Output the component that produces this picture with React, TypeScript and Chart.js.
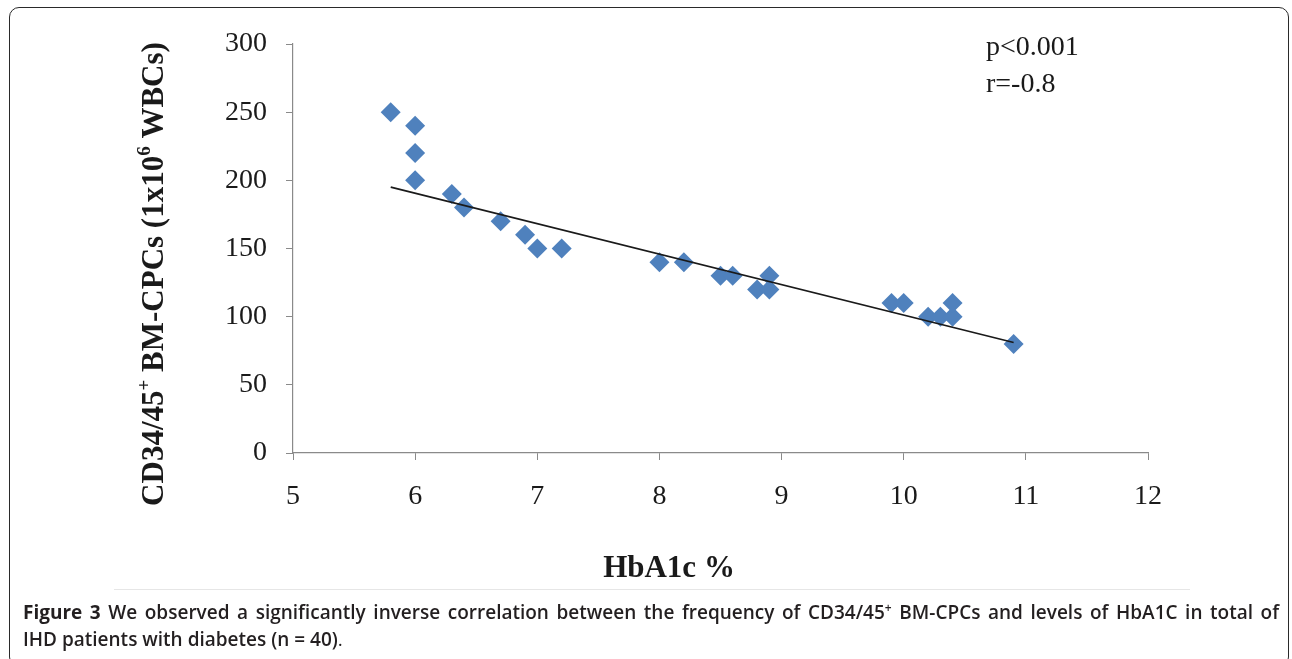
import React, { useEffect, useRef } from "react";
import { Chart, registerables } from "chart.js";
Chart.register(...registerables);

// HbA1c % (x) and CD34/45+ BM-CPCs per 1x10^6 WBCs (y)
const hba1c = [5.8, 6.0, 6.0, 6.0, 6.3, 6.4, 6.7, 6.9, 7.0, 7.2, 8.0, 8.2, 8.5, 8.6, 8.8, 8.9, 8.9, 9.9, 10.0, 10.2, 10.3, 10.4, 10.4, 10.9];
const cpcs = [250, 240, 220, 200, 190, 180, 170, 160, 150, 150, 140, 140, 130, 130, 120, 120, 130, 110, 110, 100, 100, 100, 110, 80];
// linear trend line end points
const trendX = [5.8, 10.9];
const trendY = [195, 81];
const xMin = 5;
const xMax = 12;
const yMin = 0;
const yMax = 300;
const xStep = 1;
const yStep = 50;
const annotationLines = ["p<0.001", "r=-0.8"];
const xTitle = "HbA1c %";
const yTitleParts: { t: string; sup: boolean }[] = [
  { t: "CD34/45", sup: false },
  { t: "+", sup: true },
  { t: " BM-CPCs (1x10", sup: false },
  { t: "6", sup: true },
  { t: " WBCs)", sup: false },
];

const SERIF = "'Liberation Serif', 'Times New Roman', serif";

const textPlugin = {
  id: "textPlugin",
  afterDraw(chart: any) {
    const ctx = chart.ctx as CanvasRenderingContext2D;
    ctx.save();
    ctx.fillStyle = "#1a1a1a";
    // annotation
    ctx.font = `28px ${SERIF}`;
    ctx.textAlign = "left";
    ctx.textBaseline = "middle";
    annotationLines.forEach((l, i) => ctx.fillText(l, 986, 48 + i * 37));
    // x title
    ctx.font = `bold 31px ${SERIF}`;
    ctx.textAlign = "center";
    ctx.fillText(xTitle, 669, 569);
    // y title (rotated, with superscripts)
    const fs = 31;
    const supFs = 19;
    let total = 0;
    const widths = yTitleParts.map((p) => {
      ctx.font = `bold ${p.sup ? supFs : fs}px ${SERIF}`;
      const w = ctx.measureText(p.t).width;
      total += w;
      return w;
    });
    ctx.translate(153, 274);
    ctx.rotate(-Math.PI / 2);
    ctx.textAlign = "left";
    ctx.textBaseline = "alphabetic";
    let x = -total / 2;
    const base = fs * 0.33;
    yTitleParts.forEach((p, i) => {
      ctx.font = `bold ${p.sup ? supFs : fs}px ${SERIF}`;
      ctx.fillText(p.t, x, p.sup ? base - fs * 0.42 : base);
      x += widths[i];
    });
    ctx.restore();
  },
};

export default function App() {
  const ref = useRef<HTMLCanvasElement>(null);
  useEffect(() => {
    if (!ref.current) return;
    const points = hba1c.map((x, i) => ({ x, y: cpcs[i] }));
    const trend = trendX.map((x, i) => ({ x, y: trendY[i] }));
    const axisColor = "#8a8a8a";
    const chart = new Chart(ref.current, {
      type: "scatter",
      data: {
        datasets: [
          {
            data: trend,
            showLine: true,
            borderColor: "#1a1a1a",
            borderWidth: 1.6,
            pointRadius: 0,
            pointHoverRadius: 0,
          } as any,
          {
            data: points,
            pointStyle: "rectRot",
            pointRadius: 10,
            pointHoverRadius: 10,
            backgroundColor: "#4f81bd",
            borderColor: "#4f81bd",
            borderWidth: 0,
          } as any,
        ],
      },
      options: {
        animation: false,
        responsive: false,
        events: [],
        layout: { padding: { left: 0, top: 44, right: 144, bottom: 0 } },
        plugins: { legend: { display: false }, tooltip: { enabled: false } },
        scales: {
          x: {
            type: "linear",
            min: xMin,
            max: xMax,
            ticks: { stepSize: xStep, font: { family: SERIF, size: 28 }, color: "#1a1a1a", padding: 20 },
            grid: { drawOnChartArea: false, drawTicks: true, tickLength: 7, color: axisColor },
            border: { display: true, color: axisColor, width: 1.2 },
            afterFit: (s: any) => {
              s.height = 137;
            },
          },
          y: {
            type: "linear",
            min: yMin,
            max: yMax,
            ticks: { stepSize: yStep, font: { family: SERIF, size: 28 }, color: "#1a1a1a", padding: 19 },
            grid: { drawOnChartArea: false, drawTicks: true, tickLength: 7, color: axisColor },
            border: { display: true, color: axisColor, width: 1.2 },
            afterFit: (s: any) => {
              s.width = 293;
            },
          },
        },
      },
      plugins: [textPlugin],
    });
    return () => chart.destroy();
  }, []);

  return (
    <div style={{ position: "fixed", left: 0, top: 0, width: 1292, height: 659, background: "#fff", overflow: "hidden" }}>
      <canvas ref={ref} width={1292} height={590} style={{ position: "absolute", left: 0, top: 0 }} />
      <div
        style={{
          position: "absolute",
          left: 9,
          top: 7,
          width: 1280,
          height: 660,
          border: "1.5px solid #2a2a2a",
          borderRadius: 10,
          boxSizing: "border-box",
          pointerEvents: "none",
        }}
      />
      <div style={{ position: "absolute", left: 114, top: 589, width: 1076, height: 1, background: "#e6e6e6" }} />
      <div
        style={{
          position: "absolute",
          left: 23,
          top: 599,
          width: 1256,
          fontFamily: "'Open Sans', 'Noto Sans', sans-serif",
          fontSize: 19,
          lineHeight: "27px",
          color: "#231f20",
          fontWeight: 600,
        }}
      >
        <div style={{ textAlign: "justify", textAlignLast: "justify" as any, whiteSpace: "nowrap" }}>
          <span style={{ fontWeight: 700 }}>Figure 3</span> We observed a significantly inverse correlation between the frequency of CD34/45
          <sup style={{ fontSize: 12, lineHeight: 0 }}>+</sup> BM-CPCs and levels of HbA1C in total of
        </div>
        <div>
          IHD patients with diabetes (n = 40)<span style={{ fontWeight: 400 }}>.</span>
        </div>
      </div>
    </div>
  );
}
